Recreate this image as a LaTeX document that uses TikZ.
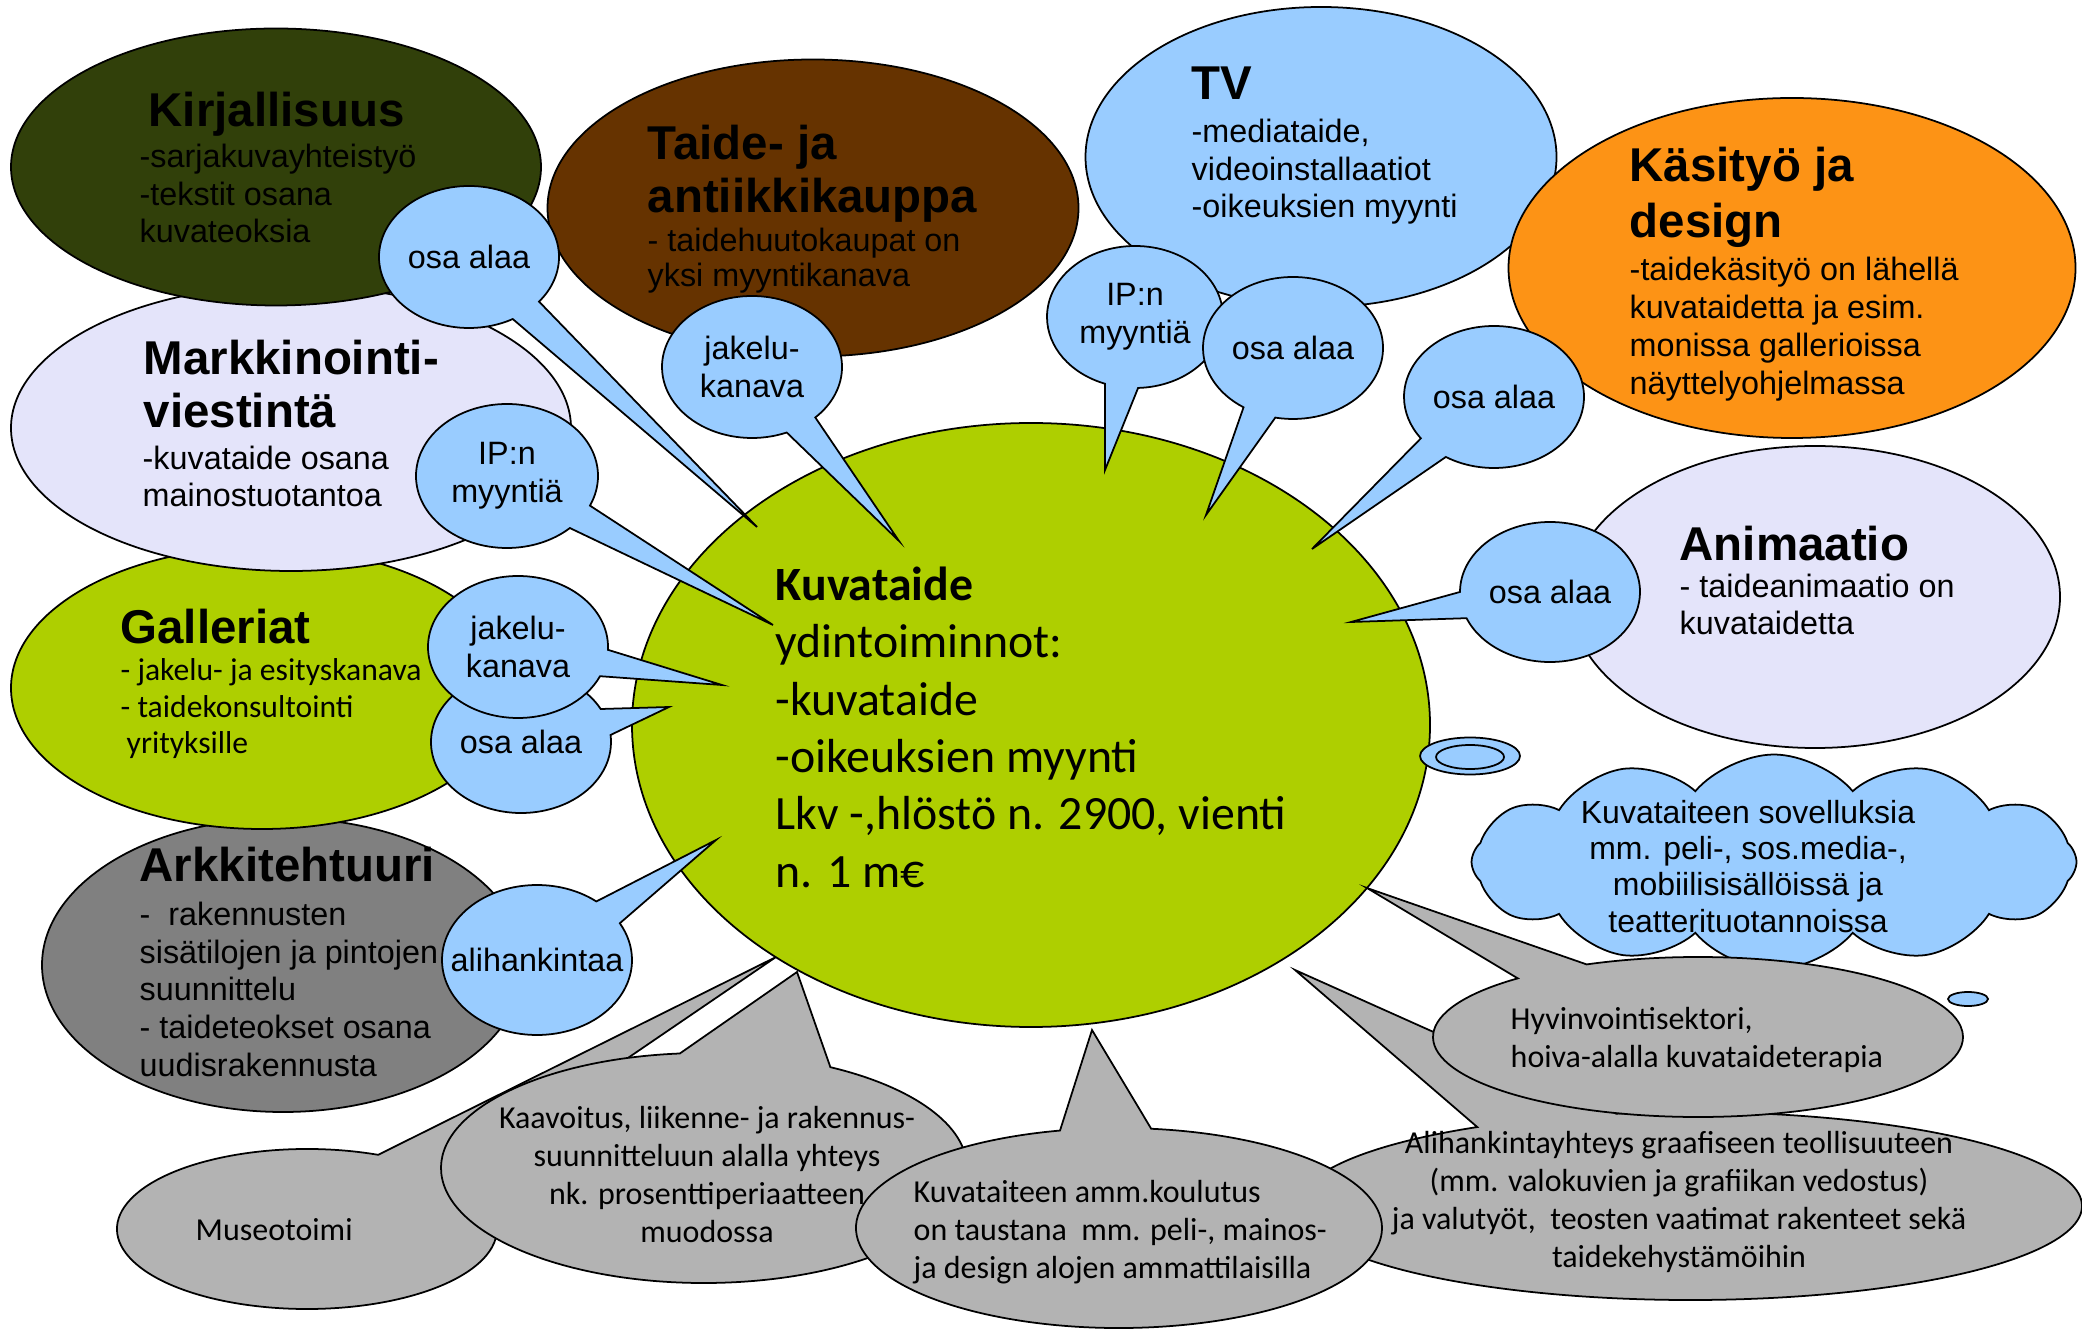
\documentclass[tikz,border=0pt]{standalone}
\usepackage{fontspec}
\setmainfont{Liberation Sans}
\newfontfamily\calfont{Carlito}
\usepackage{tikz}
\usetikzlibrary{shapes.geometric,shapes.callouts,shapes.symbols}
\definecolor{oliveA}{HTML}{31400A}
\definecolor{lilac}{HTML}{E4E4FA}
\definecolor{leaf}{HTML}{AECF00}
\definecolor{bark}{HTML}{663300}
\definecolor{sky}{HTML}{99CCFF}
\definecolor{amber}{HTML}{FD9315}
\definecolor{stone}{HTML}{808080}
\definecolor{ash}{HTML}{B3B3B3}
\newcommand\hdfont{\fontsize{13.5}{15.2}\selectfont\bfseries}
\newcommand\txfont{\fontsize{9.2}{10.7}\selectfont}
\newcommand\cofont{\calfont\fontsize{13.6}{16.3}\selectfont}
\newcommand\gyfont{\calfont\fontsize{9.1}{10.8}\selectfont}
\tikzset{
  field/.style={ellipse, draw=black, line width=0.5pt, inner sep=0pt},
  bubble/.style={ellipse callout, draw=black, line width=0.5pt, fill=sky, inner sep=0pt,
    minimum width=1.8cm, minimum height=1.42cm, callout pointer arc=22},
  gbubble/.style={ellipse callout, draw=black, line width=0.5pt, fill=ash, inner sep=0pt},
  head/.style={anchor=base west, inner sep=0pt, align=left, font=\hdfont},
  note/.style={anchor=base west, inner sep=0pt, align=left, font=\txfont},
  btext/.style={inner sep=0pt, align=center, font=\txfont},
  gtext/.style={inner sep=0pt, font=\gyfont},
}

\begin{document}
\begin{tikzpicture}
  \useasboundingbox (0,0) rectangle (20.82,-13.29);
  \fill[white] (0,0) rectangle (20.82,-13.29);

  % fields around the core (multi-line texts sit on their last baseline)
  \node[field, fill=stone, minimum width=4.82cm, minimum height=2.94cm] (arch) at (2.83,-9.65) {};
  \node[head] (arch-h) at (1.39,-8.81) {Arkkitehtuuri};
  \node[note] (arch-b) at (1.39,-10.76) {-\ \ rakennusten\\sisätilojen ja pintojen\\suunnittelu\\- taideteokset osana\\uudisrakennusta};

  \node[field, fill=leaf, minimum width=5.02cm, minimum height=2.82cm] (gall) at (2.62,-6.88) {};
  \node[head] (gall-h) at (1.20,-6.44) {Galleriat};
  \node[note, font=\calfont\fontsize{9}{10.5}\selectfont] (gall-b) at (1.20,-7.54) {- jakelu- ja esityskanava\\- taidekonsultointi\\\hspace*{0.6mm}yrityksille};

  \node[field, fill=lilac, minimum width=5.60cm, minimum height=2.86cm] (mark) at (2.91,-4.28) {};
  \node[head] (mark-h) at (1.43,-4.28) {Markkinointi-\\viestintä};
  \node[note] (mark-b) at (1.42,-5.07) {-kuvataide osana\\mainostuotantoa};

  \node[field, fill=oliveA, minimum width=5.30cm, minimum height=2.77cm] (kirj) at (2.76,-1.67) {};
  \node[head] (kirj-h) at (1.48,-1.27) {Kirjallisuus};
  \node[note] (kirj-b) at (1.39,-2.43) {-sarjakuvayhteistyö\\-tekstit osana\\kuvateoksia};

  \node[field, fill=bark, minimum width=5.31cm, minimum height=2.97cm] (kaup) at (8.13,-2.08) {};
  \node[head] (kaup-h) at (6.47,-2.13) {Taide- ja\\antiikkikauppa};
  \node[note, font=\fontsize{9.2}{10}\selectfont] (kaup-b) at (6.47,-2.87) {- taidehuutokaupat on\\yksi myyntikanava};

  \node[field, fill=sky, minimum width=4.71cm, minimum height=3.00cm] (tv) at (13.21,-1.57) {};
  \node[head] (tv-h) at (11.91,-1.00) {TV};
  \node[note] (tv-b) at (11.91,-2.18) {-mediataide,\\videoinstallaatiot\\-oikeuksien myynti};

  \node[field, fill=amber, minimum width=5.67cm, minimum height=3.40cm] (kasi) at (17.92,-2.68) {};
  \node[head, font=\fontsize{13.5}{16}\selectfont\bfseries] (kasi-h) at (16.29,-2.38) {Käsityö ja\\design};
  \node[note, font=\fontsize{9.2}{10.9}\selectfont] (kasi-b) at (16.29,-3.95) {-taidekäsityö on lähellä\\kuvataidetta ja esim.\\monissa gallerioissa\\näyttelyohjelmassa};

  \node[field, fill=lilac, minimum width=4.90cm, minimum height=3.02cm] (anim) at (18.15,-5.97) {};
  \node[head] (anim-h) at (16.79,-5.61) {Animaatio};
  \node[note] (anim-b) at (16.79,-6.35) {- taideanimaatio on\\kuvataidetta};

  % thought cloud
  \node[cloud, cloud puffs=12, cloud puff arc=100, cloud ignores aspect, draw=black, line width=0.5pt,
    fill=sky, inner sep=0pt, minimum width=6.05cm, minimum height=2.15cm] (appl) at (17.74,-8.62) {};
  \node[inner sep=0pt, anchor=base, align=center, font=\fontsize{9.1}{10.3}\selectfont] (appl-t) at (17.48,-9.32)
    {Kuvataiteen sovelluksia\\mm. peli-, sos.media-,\\mobiilisisällöissä ja\\teatterituotannoissa};

  % core
  \node[field, fill=leaf, minimum width=7.98cm, minimum height=6.04cm] (core) at (10.31,-7.25) {};
  \node[anchor=base west, inner sep=0pt, align=left, font=\cofont] (core-t) at (7.75,-8.87)
    {{\bfseries Kuvataide}\\ydintoiminnot:\\-kuvataide\\-oikeuksien myynti\\Lkv -,hlöstö n. 2900, vienti\\n. 1 m€};

  \node[field, fill=sky, minimum width=1.00cm, minimum height=0.37cm] (ring) at (14.70,-7.56) {};
  \node[field, fill=sky, minimum width=0.68cm, minimum height=0.24cm] (ring-in) at (14.70,-7.57) {};
  \node[field, fill=sky, minimum width=0.40cm, minimum height=0.14cm] (puff) at (19.68,-9.99) {};

  % grey callouts
  \coordinate (tmus) at (7.76,-9.57);
  \coordinate (tkaa) at (7.97,-9.72);
  \coordinate (tali) at (12.95,-9.70);
  \coordinate (tamm) at (10.92,-10.30);
  \coordinate (thyv) at (13.67,-8.88);

  \node[gbubble, callout absolute pointer={(tmus)}, callout pointer arc=28,
    minimum width=3.80cm, minimum height=1.60cm] (museo) at (3.07,-12.29) {};
  \node[gtext, anchor=base west] (museo-t) at (1.95,-12.40) {Museotoimi};

  \node[gbubble, callout absolute pointer={(tkaa)}, callout pointer arc=34,
    minimum width=5.26cm, minimum height=2.30cm] (kaav) at (7.04,-11.68) {};
  \node[gtext, anchor=base, align=center] (kaav-t) at (7.07,-12.42)
    {Kaavoitus, liikenne- ja rakennus-\\suunnitteluun alalla yhteys\\nk. prosenttiperiaatteen\\muodossa};

  \node[gbubble, callout absolute pointer={(tali)}, callout pointer arc=22,
    minimum width=7.84cm, minimum height=1.88cm] (aliy) at (16.90,-12.06) {};
  \node[gtext, anchor=base, align=center] (aliy-t) at (16.79,-12.67)
    {Alihankintayhteys graafiseen teollisuuteen\\(mm. valokuvien ja grafiikan vedostus)\\ja valutyöt,\ \ teosten vaatimat rakenteet sekä\\taidekehystämöihin};

  \node[gbubble, callout absolute pointer={(tamm)}, callout pointer arc=20,
    minimum width=5.26cm, minimum height=2.00cm] (amm) at (11.19,-12.28) {};
  \node[gtext, anchor=base west, align=left] (amm-t) at (9.13,-12.78)
    {Kuvataiteen amm.koulutus\\on taustana\ \ mm. peli-, mainos-\\ja design alojen ammattilaisilla};

  \node[gbubble, callout absolute pointer={(thyv)}, callout pointer arc=18,
    minimum width=5.30cm, minimum height=1.60cm] (hyvi) at (16.98,-10.37) {};
  \node[gtext, anchor=base west, align=left] (hyvi-t) at (15.10,-10.67)
    {Hyvinvointisektori,\\hoiva-alalla kuvataideterapia};

  % blue callouts
  \coordinate (t1) at (7.57,-5.27);
  \coordinate (t2) at (7.73,-6.25);
  \coordinate (t3) at (8.99,-5.41);
  \coordinate (t4) at (11.05,-4.70);
  \coordinate (t5) at (12.06,-5.15);
  \coordinate (t6) at (13.12,-5.49);
  \coordinate (t7) at (13.51,-6.22);
  \coordinate (t8) at (7.22,-6.85);
  \coordinate (t9) at (6.69,-7.07);
  \coordinate (t10) at (7.16,-8.40);

  \node[bubble, callout absolute pointer={(t1)}] (b1) at (4.69,-2.57) {};
  \node[btext] (b1-t) at (b1.center) {osa alaa};
  \node[bubble, callout absolute pointer={(t2)}, minimum width=1.82cm, minimum height=1.44cm] (b2) at (5.07,-4.76) {};
  \node[btext] (b2-t) at (b2.center) {IP:n\\myyntiä};
  \node[bubble, callout absolute pointer={(t3)}] (b3) at (7.52,-3.67) {};
  \node[btext] (b3-t) at (b3.center) {jakelu-\\kanava};
  \node[bubble, callout absolute pointer={(t4)}, minimum width=1.76cm] (b4) at (11.35,-3.17) {};
  \node[btext] (b4-t) at (b4.center) {IP:n\\myyntiä};
  \node[bubble, callout absolute pointer={(t5)}] (b5) at (12.93,-3.48) {};
  \node[btext] (b5-t) at (b5.center) {osa alaa};
  \node[bubble, callout absolute pointer={(t6)}] (b6) at (14.94,-3.97) {};
  \node[btext] (b6-t) at (b6.center) {osa alaa};
  \node[bubble, callout absolute pointer={(t7)}, minimum height=1.40cm] (b7) at (15.50,-5.92) {};
  \node[btext] (b7-t) at (b7.center) {osa alaa};
  \node[bubble, callout absolute pointer={(t9)}] (b9) at (5.21,-7.42) {};
  \node[btext] (b9-t) at (b9.center) {osa alaa};
  \node[bubble, callout absolute pointer={(t8)}] (b8) at (5.18,-6.47) {};
  \node[btext] (b8-t) at (b8.center) {jakelu-\\kanava};
  \node[bubble, callout absolute pointer={(t10)}, minimum width=1.90cm, minimum height=1.50cm] (b10) at (5.37,-9.60) {};
  \node[btext] (b10-t) at (b10.center) {alihankintaa};
\end{tikzpicture}
\end{document}
